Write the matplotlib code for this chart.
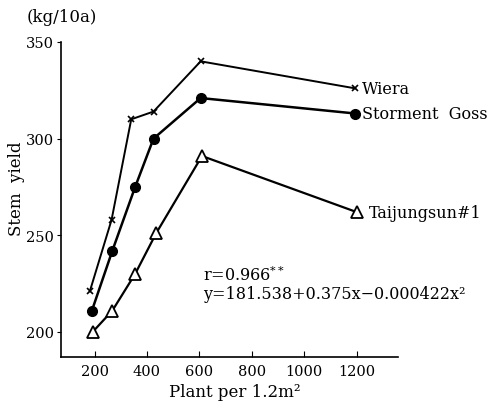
import matplotlib
matplotlib.use("Agg")
import matplotlib.pyplot as plt

plt.rcParams["font.family"] = ["DejaVu Serif"]
plt.rcParams["mathtext.fontset"] = "dejavuserif"

# plants per 1.2 m2 and stem yield (kg/10a)
plant_wiera = [182, 265, 340, 425, 605, 1195]
stem_wiera = [221, 258, 310, 314, 340, 326]

plant_goss = [190, 268, 355, 425, 605, 1195]
stem_goss = [211, 242, 275, 300, 321, 313]

plant_taij = [193, 268, 355, 435, 610, 1200]
stem_taij = [200, 211, 230, 251, 291, 262]

x_ticks = [200, 400, 600, 800, 1000, 1200]
y_ticks = [200, 250, 300, 350]

fig = plt.figure(figsize=(4.96, 4.02), dpi=100)
ax = fig.add_axes([61 / 496, 44 / 402, 337 / 496, 315 / 402])

ax.plot(plant_wiera, stem_wiera, color="black", lw=1.4,
        marker="x", ms=5, mew=1.2)
ax.plot(plant_goss, stem_goss, color="black", lw=1.8,
        marker="o", ms=7, mfc="black")
ax.plot(plant_taij, stem_taij, color="black", lw=1.6,
        marker="^", ms=8.5, mfc="white", mew=1.3)

ax.annotate("Wiera", (plant_wiera[-1], stem_wiera[-1]), xytext=(5, 0),
            textcoords="offset points", va="center", fontsize=11.5)
ax.annotate("Storment  Goss", (plant_goss[-1], stem_goss[-1]), xytext=(5, 0),
            textcoords="offset points", va="center", fontsize=11.5)
ax.annotate("Taijungsun#1", (plant_taij[-1], stem_taij[-1]), xytext=(9, 0),
            textcoords="offset points", va="center", fontsize=11.5)

ax.text(0.421, 0.262, "r=0.966$^{**}$", transform=ax.transAxes,
        ha="left", va="center", fontsize=11.5)
ax.text(0.421, 0.200, "y=181.538+0.375x\u22120.000422x\u00b2",
        transform=ax.transAxes, ha="left", va="center", fontsize=11.5)

ax.set_xlim(72, 1358)
ax.set_ylim(187, 350)
ax.set_xticks(x_ticks)
ax.set_yticks(y_ticks)
ax.tick_params(axis="x", direction="in", length=4, labelsize=10.5, pad=5)
ax.tick_params(axis="y", direction="out", length=3, labelsize=10.5, pad=2)

for side in ["top", "right"]:
    ax.spines[side].set_visible(False)
for side in ["left", "bottom"]:
    ax.spines[side].set_linewidth(1.2)

fig.text(17 / 496, 1 - 189 / 402, "Stem  yield", rotation=90,
         ha="center", va="center", fontsize=12)
fig.text(27 / 496, 1 - 18 / 402, "(kg/10a)", ha="left", va="center",
         fontsize=12)
fig.text(235 / 496, 1 - 393 / 402, "Plant per 1.2m\u00b2", ha="center",
         va="center", fontsize=12)

fig.savefig("out.png", dpi=100)
